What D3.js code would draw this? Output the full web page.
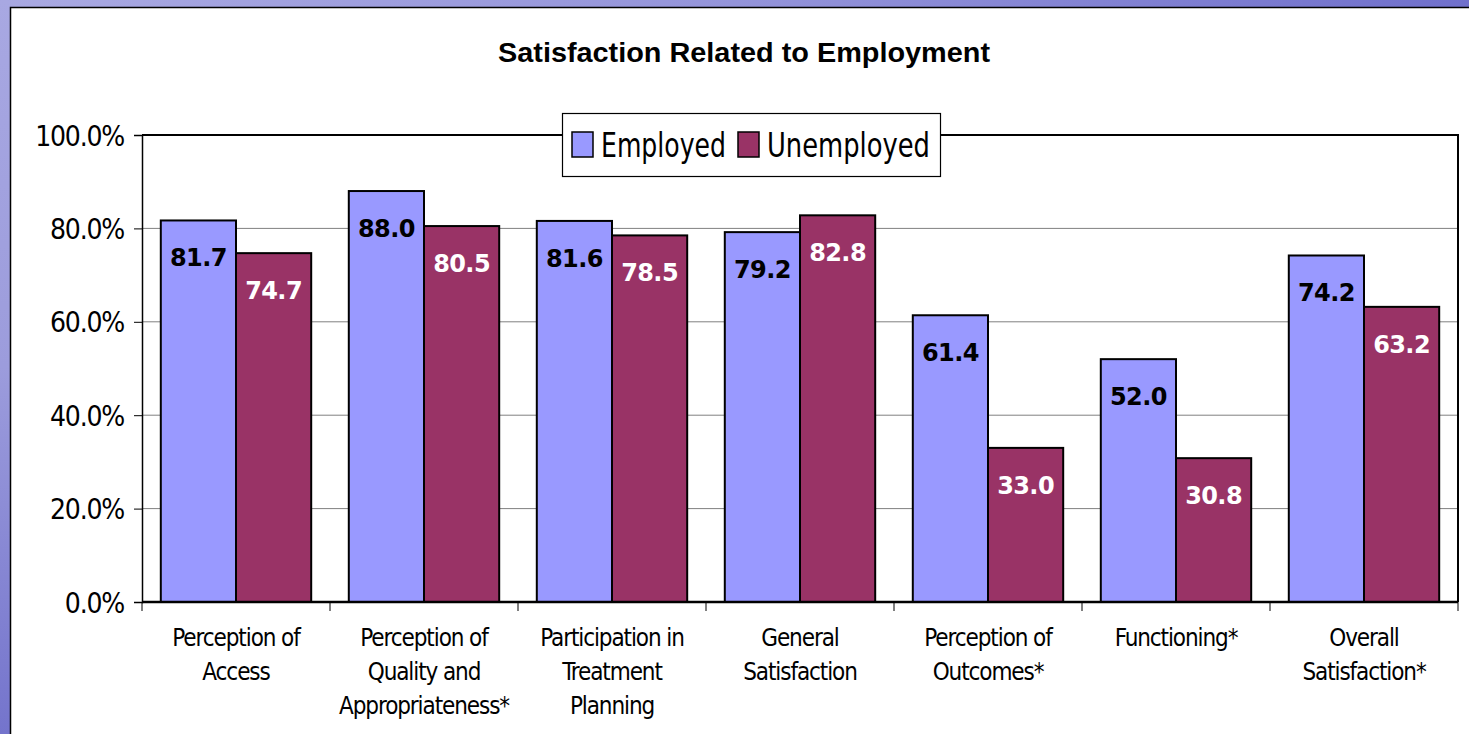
<!DOCTYPE html>
<html><head><meta charset="utf-8">
<script src="https://cdn.jsdelivr.net/npm/d3@7/dist/d3.min.js"></script>
<style>html,body{margin:0;padding:0;overflow:hidden;background:#fff}</style>
</head><body>
<script>
const categories = [
  ["Perception of","Access"],
  ["Perception of","Quality and","Appropriateness*"],
  ["Participation in","Treatment","Planning"],
  ["General","Satisfaction"],
  ["Perception of","Outcomes*"],
  ["Functioning*"],
  ["Overall","Satisfaction*"]
];
const employed   = [81.7, 88.0, 81.6, 79.2, 61.4, 52.0, 74.2];
const unemployed = [74.7, 80.5, 78.5, 82.8, 33.0, 30.8, 63.2];
const seriesNames = ["Employed","Unemployed"];
const yTicks = [0, 20, 40, 60, 80, 100];
const title = "Satisfaction Related to Employment";

const W = 1469, H = 734;
const svg = d3.select("body").append("svg").attr("width", W).attr("height", H);
const defs = svg.append("defs");
const g1 = defs.append("linearGradient").attr("id","bg").attr("x1","0").attr("y1","0").attr("x2","1").attr("y2","0");
g1.append("stop").attr("offset","0").attr("stop-color","#a9a9e2");
g1.append("stop").attr("offset","0.5").attr("stop-color","#9494da");
g1.append("stop").attr("offset","1").attr("stop-color","#7070cc");
const g2 = defs.append("linearGradient").attr("id","bgv").attr("x1","0").attr("y1","0").attr("x2","0").attr("y2","1");
g2.append("stop").attr("offset","0").attr("stop-color","#a8a8e2");
g2.append("stop").attr("offset","0.5").attr("stop-color","#9c9cdc");
g2.append("stop").attr("offset","1").attr("stop-color","#7474cc");

svg.append("rect").attr("width", W).attr("height", H).attr("fill","url(#bg)");
svg.append("rect").attr("x",0).attr("y",0).attr("width",11).attr("height",H).attr("fill","url(#bgv)");
// white panel
svg.append("rect").attr("x",10.5).attr("y",7.5).attr("width",W).attr("height",H)
  .attr("fill","#fff").attr("stroke","#000").attr("stroke-width",1.5);

const font = "'DejaVu Sans Condensed','DejaVu Sans',sans-serif";

const x0 = d3.scaleBand().domain(d3.range(categories.length)).range([142, 1458]).paddingInner(0).paddingOuter(0);
const x1 = d3.scaleBand().domain(seriesNames).range([0, x0.bandwidth()]).paddingInner(0).paddingOuter(0.25);
const y = d3.scaleLinear().domain([0, 100]).range([602, 135]);

// gridlines
svg.append("g").selectAll("line").data(yTicks.filter(d=>d>0 && d<100)).join("line")
  .attr("x1",142).attr("x2",1458).attr("y1",d=>y(d)).attr("y2",d=>y(d))
  .attr("stroke","#808080").attr("stroke-width",1);

// plot border top/right
svg.append("path").attr("d",`M142,${y(100)}H1458V${y(0)}`).attr("fill","none").attr("stroke","#000").attr("stroke-width",2);

// bars
const colors = {Employed:"#9999ff", Unemployed:"#993366"};
const data = categories.map((c,i)=>({i, vals:[{s:"Employed",v:employed[i]},{s:"Unemployed",v:unemployed[i]}]}));
const grp = svg.append("g").selectAll("g").data(data).join("g").attr("transform",d=>`translate(${x0(d.i)},0)`);
grp.selectAll("rect").data(d=>d.vals).join("rect")
  .attr("x",d=>x1(d.s)).attr("width",x1.bandwidth())
  .attr("y",d=>y(d.v)).attr("height",d=>y(0)-y(d.v))
  .attr("fill",d=>colors[d.s]).attr("stroke","#000").attr("stroke-width",2);
grp.selectAll("text").data(d=>d.vals).join("text")
  .attr("x",d=>x1(d.s)+x1.bandwidth()/2).attr("y",d=>y(d.v)+46)
  .attr("text-anchor","middle").attr("font-family","'DejaVu Sans',sans-serif").attr("font-weight","bold")
  .attr("font-size",24).attr("letter-spacing","-0.6px").attr("fill",d=>d.s==="Employed"?"#000":"#fff")
  .text(d=>d.v.toFixed(1));

// y axis
const yAxis = svg.append("g").attr("transform","translate(142,0)")
  .call(d3.axisLeft(y).tickValues(yTicks).tickSize(8).tickPadding(10).tickFormat(d=>d.toFixed(1)+"%"));
yAxis.select(".domain").attr("stroke","#000").attr("stroke-width",1.5);
yAxis.selectAll(".tick line").attr("stroke","#000").attr("stroke-width",1);
yAxis.selectAll("text").attr("font-family",font).attr("font-size",28).attr("fill","#000").attr("letter-spacing","-1.2px").attr("dy","0.36em");

// x axis
const xAxisG = svg.append("g").attr("transform",`translate(0,${y(0)})`);
xAxisG.append("line").attr("x1",142).attr("x2",1458).attr("y1",0).attr("y2",0).attr("stroke","#000").attr("stroke-width",2.5);
xAxisG.selectAll("line.tk").data(d3.range(categories.length+1)).join("line").attr("class","tk")
  .attr("x1",d=>d<categories.length?x0(d):1458).attr("x2",d=>d<categories.length?x0(d):1458)
  .attr("y1",0).attr("y2",9).attr("stroke","#000").attr("stroke-width",1);
const lab = xAxisG.selectAll("text").data(categories).join("text")
  .attr("x",(d,i)=>x0(i)+x0.bandwidth()/2).attr("y",44)
  .attr("text-anchor","middle").attr("font-family",font).attr("font-size",24).attr("letter-spacing","-1.1px").attr("fill","#000");
lab.selectAll("tspan").data(d=>d).join("tspan")
  .attr("x",function(){return this.parentNode.getAttribute("x");})
  .attr("dy",(d,i)=>i===0?0:34).text(d=>d);

// title
svg.append("text").attr("x",744).attr("y",62).attr("text-anchor","middle")
  .attr("font-family","'Liberation Sans',Arial,sans-serif").attr("font-weight","bold").attr("font-size",27)
  .attr("textLength",492).attr("lengthAdjust","spacingAndGlyphs").text(title);

// legend
const lg = svg.append("g");
lg.append("rect").attr("x",562.5).attr("y",113.5).attr("width",378).attr("height",63).attr("fill","#fff").attr("stroke","#000").attr("stroke-width",1.2);
const legendItems = [{s:"Employed", sx:572, tx:601, tw:125},{s:"Unemployed", sx:738, tx:767, tw:163}];
legendItems.forEach(it=>{
  lg.append("rect").attr("x",it.sx).attr("y",132).attr("width",21).attr("height",25).attr("fill",colors[it.s]).attr("stroke","#000").attr("stroke-width",1.5);
  lg.append("text").attr("x",it.tx).attr("y",157).attr("font-family",font).attr("font-size",33)
    .attr("textLength",it.tw).attr("lengthAdjust","spacingAndGlyphs").text(it.s);
});
</script>
</body></html>
